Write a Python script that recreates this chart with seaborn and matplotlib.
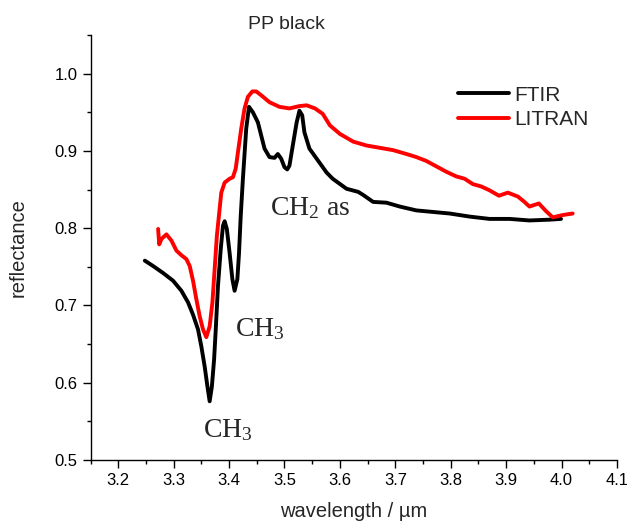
import numpy as np
import pandas as pd
import seaborn as sns
import matplotlib.pyplot as plt
from matplotlib.ticker import MultipleLocator

# FTIR spectrum
ftir_x = [3.248, 3.263, 3.281, 3.299, 3.314, 3.326, 3.335, 3.344, 3.350, 3.356,
          3.361, 3.365, 3.369, 3.373, 3.376, 3.380, 3.385, 3.389, 3.392, 3.396,
          3.401, 3.406, 3.410, 3.415, 3.418, 3.421, 3.425, 3.431, 3.436, 3.443,
          3.452, 3.458, 3.464, 3.473, 3.482, 3.488, 3.494, 3.500, 3.505, 3.509,
          3.515, 3.522, 3.527, 3.532, 3.536, 3.545, 3.558, 3.576, 3.587, 3.612,
          3.633, 3.642, 3.660, 3.684, 3.708, 3.738, 3.768, 3.798, 3.834, 3.870,
          3.906, 3.942, 3.978, 3.999]
ftir_y = [0.758, 0.751, 0.742, 0.732, 0.719, 0.704, 0.688, 0.669, 0.647, 0.621,
          0.595, 0.576, 0.595, 0.630, 0.669, 0.725, 0.773, 0.803, 0.809, 0.799,
          0.768, 0.734, 0.719, 0.734, 0.768, 0.815, 0.864, 0.929, 0.957, 0.950,
          0.937, 0.920, 0.903, 0.892, 0.891, 0.896, 0.890, 0.879, 0.876, 0.881,
          0.907, 0.937, 0.952, 0.946, 0.924, 0.903, 0.890, 0.872, 0.864, 0.851,
          0.847, 0.843, 0.834, 0.833, 0.828, 0.823, 0.821, 0.819, 0.815, 0.812,
          0.812, 0.810, 0.811, 0.812]

# LITRAN spectrum
litran_x = [3.272, 3.274, 3.278, 3.287, 3.296, 3.305, 3.314, 3.323, 3.329, 3.335,
            3.341, 3.347, 3.353, 3.359, 3.365, 3.370, 3.374, 3.378, 3.382, 3.386,
            3.392, 3.401, 3.407, 3.412, 3.416, 3.422, 3.428, 3.434, 3.442, 3.449,
            3.458, 3.473, 3.491, 3.509, 3.527, 3.540, 3.555, 3.569, 3.582, 3.600,
            3.624, 3.648, 3.672, 3.696, 3.720, 3.738, 3.756, 3.774, 3.792, 3.810,
            3.825, 3.840, 3.855, 3.870, 3.887, 3.903, 3.921, 3.933, 3.942, 3.959,
            3.972, 3.984, 4.002, 4.020]
litran_y = [0.799, 0.779, 0.786, 0.792, 0.784, 0.771, 0.765, 0.760, 0.751, 0.732,
            0.708, 0.686, 0.669, 0.659, 0.673, 0.704, 0.747, 0.790, 0.818, 0.846,
            0.859, 0.864, 0.866, 0.877, 0.898, 0.929, 0.955, 0.970, 0.977, 0.977,
            0.972, 0.963, 0.957, 0.955, 0.958, 0.959, 0.955, 0.948, 0.933, 0.922,
            0.912, 0.907, 0.904, 0.901, 0.896, 0.892, 0.887, 0.880, 0.873, 0.867,
            0.864, 0.857, 0.854, 0.849, 0.842, 0.846, 0.841, 0.834, 0.828, 0.832,
            0.822, 0.814, 0.817, 0.819]

df = pd.concat([
    pd.DataFrame({"wavelength": ftir_x, "reflectance": ftir_y, "method": "FTIR"}),
    pd.DataFrame({"wavelength": litran_x, "reflectance": litran_y, "method": "LITRAN"}),
])

sns.set_style("ticks")
plt.rcParams['font.family'] = ['Liberation Sans', 'DejaVu Sans']
plt.rcParams['mathtext.fontset'] = 'custom'
plt.rcParams['mathtext.rm'] = 'Liberation Serif'
plt.rcParams['mathtext.it'] = 'Liberation Serif:italic'

fig = plt.figure(figsize=(6.27, 5.25), dpi=100)
ax = fig.add_axes([90.5 / 627, 65 / 525, 526.5 / 627, 425 / 525])

sns.lineplot(data=df, x="wavelength", y="reflectance", hue="method",
             palette={"FTIR": "black", "LITRAN": "#ff0000"}, sort=False,
             linewidth=2.8, ax=ax)

ax.xaxis.set_major_locator(MultipleLocator(0.1))
ax.xaxis.set_minor_locator(MultipleLocator(0.05))
ax.yaxis.set_major_locator(MultipleLocator(0.1))
ax.yaxis.set_minor_locator(MultipleLocator(0.05))
ax.set_xticks([3.2, 3.3, 3.4, 3.5, 3.6, 3.7, 3.8, 3.9, 4.0, 4.1])
ax.set_xlim(3.15, 4.1)
ax.set_ylim(0.5, 1.05)
ax.tick_params(which="major", direction="out", length=6, width=1, labelsize=12, colors="black")
ax.tick_params(which="minor", direction="out", length=3, width=1, colors="black")
for s in ax.spines.values():
    s.set_linewidth(1.0)
    s.set_color("black")
sns.despine(ax=ax)

ax.set_xlabel("wavelength / µm", fontsize=14.5)
ax.set_ylabel("reflectance", fontsize=14.5)
ax.xaxis.set_label_coords(0.5, -0.122)
ax.xaxis.label.set_va("center")
ax.yaxis.set_label_coords(-0.138, 0.5)
ax.yaxis.label.set_va("center")
ax.text(3.504, 1.058, "PP black", fontsize=14, ha="center", va="baseline")

serif = ['Liberation Serif', 'DejaVu Serif']
ax.text(3.398, 0.539, r"$\mathrm{CH_3}$", family=serif, fontsize=20, ha="center", va="center")
ax.text(3.455, 0.669, r"$\mathrm{CH_3}$", family=serif, fontsize=20, ha="center", va="center")
ax.text(3.474, 0.826, r"CH$\mathrm{_2}$ as", family=serif, fontsize=20, ha="left", va="center")

ax.legend(title=None, frameon=False, fontsize=15, loc="upper left",
          bbox_to_anchor=(0.662, 0.925), handlelength=2.45, labelspacing=0.28,
          handletextpad=0.25)

fig.savefig("out.png", dpi=100)
